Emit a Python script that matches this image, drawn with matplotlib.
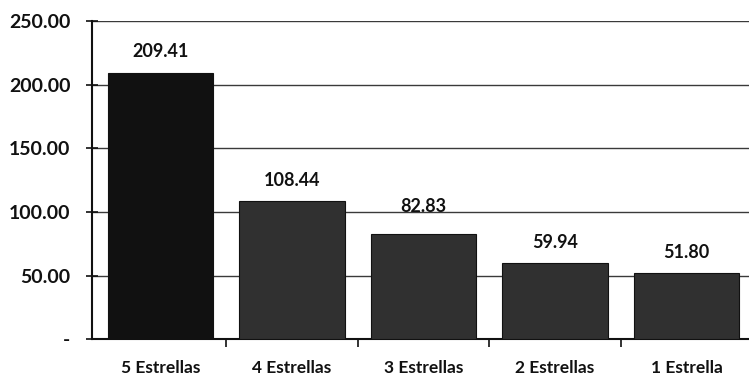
import matplotlib
matplotlib.use("Agg")
from matplotlib import pyplot as plt
from matplotlib.ticker import FixedLocator

categories = ["5 Estrellas", "4 Estrellas", "3 Estrellas", "2 Estrellas", "1 Estrella"]
values = [209.41, 108.44, 82.83, 59.94, 51.80]
value_labels = ["209.41", "108.44", "82.83", "59.94", "51.80"]
y_ticks = [0, 50, 100, 150, 200, 250]
y_tick_labels = ["-", "50.00", "100.00", "150.00", "200.00", "250.00"]

plt.rcParams["font.family"] = ["Lato", "DejaVu Sans"]
plt.rcParams["font.weight"] = "bold"

fig = plt.figure(figsize=(7.49, 3.77), dpi=100)
ax = fig.add_axes([0.1228, 0.0995, 0.8772, 0.8448])

colors = ["#111111"] + ["#303030"] * (len(values) - 1)
x = list(range(len(categories)))
bars = ax.bar(x, values, width=0.8, color=colors, edgecolor="#111111", linewidth=0.8, zorder=3)

# value labels above the bars
extra = [0, 0, 5, 0, 0]
for rect, lab, e in zip(bars, value_labels, extra):
    ax.annotate(lab, (rect.get_x() + rect.get_width() / 2, rect.get_height()),
                xytext=(0, 9 + e), textcoords="offset points",
                ha="center", va="bottom", fontsize=13, color="#111111")

ax.set_xlim(-0.521, 4.475)
ax.set_ylim(0, 250)
ax.set_yticks(y_ticks)
ax.set_yticklabels(y_tick_labels, fontsize=14, color="#111111")
ax.set_xticks(x)
ax.set_xticklabels(categories, fontsize=12.5, color="#111111")
ax.xaxis.set_minor_locator(FixedLocator([0.5, 1.5, 2.5, 3.5]))

ax.tick_params(axis="y", direction="inout", length=9, width=1.2, pad=11, color="#111111")
ax.tick_params(axis="x", which="major", length=0, pad=15)
ax.tick_params(axis="x", which="minor", direction="out", length=6, width=1.2, color="#111111")

for v in y_ticks[1:]:
    ax.axhline(v, color="#3a3a3a", linewidth=1.0, zorder=1)

ax.spines["top"].set_visible(False)
ax.spines["right"].set_visible(False)
ax.spines["left"].set_linewidth(1.5)
ax.spines["bottom"].set_linewidth(1.5)
ax.spines["left"].set_color("#111111")
ax.spines["bottom"].set_color("#111111")

fig.savefig("out.png", dpi=100)
